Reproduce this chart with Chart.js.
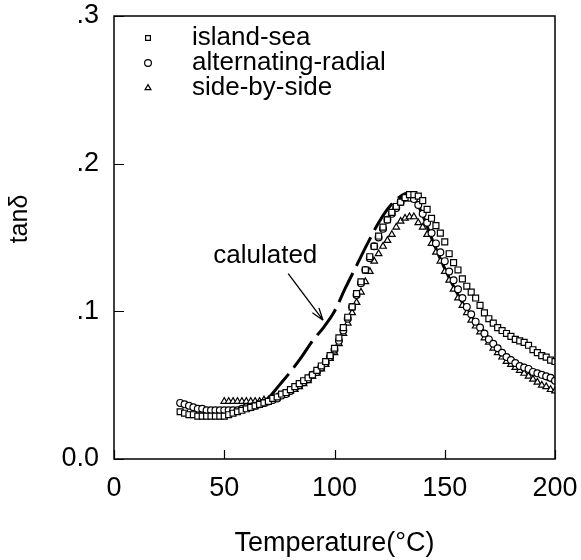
<!DOCTYPE html>
<html>
<head>
<meta charset="utf-8">
<script src="https://cdn.jsdelivr.net/npm/chart.js@4/dist/chart.umd.min.js"></script>
<style>
html,body{margin:0;padding:0;background:#fff;}
canvas{display:block;}
</style>
</head>
<body>
<canvas id="c" width="581" height="560"></canvas>
<script>
// ---- data ----
const seriesNames = ['island-sea', 'alternating-radial', 'side-by-side'];
const calcLabel = 'calulated';
const xTitle = 'Temperature(°C)';
const yTitle = 'tanδ';
const xTickValues = [0, 50, 100, 150, 200];
const yTickValues = [0, 0.1, 0.2, 0.3];
const yTickLabels = ['0.0', '.1', '.2', '.3'];

const islandX = [30,32,34,36,38,40,42,44,46,48,50,52,54,56,58,60,62,64,66,68,70,72,74,76,78,80,82,84,86,88,90,92,94,96,98,100,102,104,106,108,110,112,114,116,118,120,122,124,126,128,130,132,134,136,138,140,142,144,146,148,150,152,154,156,158,160,162,164,166,168,170,172,174,176,178,180,182,184,186,188,190,192,194,196,198,200];
const islandY = [.032,.031,.030,.030,.029,.029,.029,.029,.029,.029,.029,.030,.031,.032,.033,.034,.035,.036,.037,.038,.039,.041,.042,.044,.045,.047,.049,.051,.053,.055,.057,.060,.063,.066,.070,.075,.082,.089,.096,.103,.112,.120,.128,.137,.144,.151,.157,.162,.167,.171,.174,.177,.179,.179,.178,.175,.169,.163,.158,.153,.147,.139,.133,.128,.122,.117,.113,.109,.104,.099,.095,.092,.089,.087,.085,.083,.081,.080,.079,.077,.074,.072,.070,.069,.067,.066];

const radialX = [30,32,34,36,38,40,42,44,46,48,50,52,54,56,58,60,62,64,66,68,70,72,74,76,78,80,82,84,86,88,90,92,94,96,98,100,102,104,106,108,110,112,114,116,118,120,122,124,126,128,130,132,134,136,138,140,142,144,146,148,150,152,154,156,158,160,162,164,166,168,170,172,174,176,178,180,182,184,186,188,190,192,194,196,198,200];
const radialY = [.038,.037,.036,.035,.034,.034,.033,.033,.033,.033,.033,.033,.033,.033,.034,.035,.035,.036,.037,.038,.039,.040,.041,.043,.044,.046,.048,.050,.052,.054,.057,.059,.062,.065,.069,.074,.080,.087,.095,.103,.111,.119,.128,.136,.144,.150,.156,.162,.166,.170,.174,.177,.177,.176,.172,.166,.160,.153,.146,.140,.134,.127,.121,.115,.109,.103,.098,.093,.089,.085,.081,.078,.075,.072,.069,.067,.065,.063,.062,.061,.059,.058,.057,.056,.055,.053];

const sideX = [50,52,54,56,58,60,62,64,66,68,70,72,74,76,78,80,82,84,86,88,90,92,94,96,98,100,102,104,106,108,110,112,114,116,118,120,122,124,126,128,130,132,134,136,138,140,142,144,146,148,150,152,154,156,158,160,162,164,166,168,170,172,174,176,178,180,182,184,186,188,190,192,194,196,198,200];
const sideY = [.039,.039,.039,.039,.039,.039,.039,.039,.039,.040,.040,.041,.042,.043,.044,.046,.047,.049,.051,.053,.056,.058,.061,.064,.068,.072,.078,.085,.092,.099,.106,.113,.120,.127,.134,.139,.144,.148,.152,.157,.161,.163,.164,.164,.160,.157,.152,.146,.140,.134,.127,.121,.115,.109,.104,.099,.094,.090,.086,.082,.079,.075,.072,.069,.066,.064,.062,.060,.058,.056,.054,.052,.050,.049,.047,.046];

const calcX = [70,75,80,85,90,95,100,105,110,115,120,125,130,133,136,140,145,150,155,160,165,170,175,180,185,190,195,200];
const calcY = [.041,.050,.059,.069,.080,.089,.100,.116,.131,.146,.160,.171,.178,.180,.177,.165,.146,.129,.114,.101,.091,.082,.074,.068,.063,.059,.055,.052];
const calcDashEndX = 133;

// ---- build ----
const toPts = (xs, ys) => xs.map((x, i) => ({x: x, y: ys[i]}));
const FONT = '"Liberation Sans", Arial, Helvetica, sans-serif';

const markerStyles = ['rect', 'circle', 'triangle'];
const markerRadius = [4.2, 3.4, 3.8];

function drawMarker(ctx, style, x, y, r) {
  ctx.beginPath();
  if (style === 'rect') {
    const s = r * Math.SQRT1_2;
    ctx.rect(x - s, y - s, 2 * s, 2 * s);
  } else if (style === 'circle') {
    ctx.arc(x, y, r, 0, Math.PI * 2);
  } else {
    const w = r * Math.sqrt(3) / 2;
    ctx.moveTo(x, y - r);
    ctx.lineTo(x + w, y + r / 2);
    ctx.lineTo(x - w, y + r / 2);
    ctx.closePath();
  }
  ctx.fill();
  ctx.stroke();
}

const framePlugin = {
  id: 'frameAndNotes',
  afterDraw(chart) {
    const ctx = chart.ctx;
    const a = chart.chartArea;
    const xs = chart.scales.x, ys = chart.scales.y;
    ctx.save();
    ctx.strokeStyle = '#000';
    ctx.lineWidth = 1.5;
    ctx.strokeRect(a.left, a.top, a.right - a.left, a.bottom - a.top);
    // inward ticks
    ctx.lineWidth = 1.2;
    ctx.beginPath();
    xTickValues.forEach(v => {
      const px = Math.round(xs.getPixelForValue(v)) + 0.5;
      ctx.moveTo(px, a.bottom);
      ctx.lineTo(px, a.bottom - 9);
    });
    yTickValues.forEach(v => {
      const py = Math.round(ys.getPixelForValue(v)) + 0.5;
      ctx.moveTo(a.left, py);
      ctx.lineTo(a.left + 10, py);
    });
    ctx.stroke();
    // y axis title
    ctx.save();
    ctx.translate(20, a.top + 203);
    ctx.rotate(-Math.PI / 2);
    ctx.font = '25px ' + FONT;
    ctx.textAlign = 'center';
    ctx.textBaseline = 'middle';
    ctx.fillStyle = '#000';
    ctx.fillText(yTitle, 0, 0);
    ctx.restore();
    // legend
    ctx.font = '26px ' + FONT;
    ctx.textBaseline = 'middle';
    ctx.textAlign = 'left';
    ctx.fillStyle = '#000';
    seriesNames.forEach((name, i) => {
      const y = a.top + 22 + i * 25;
      ctx.fillStyle = '#fff';
      ctx.strokeStyle = '#000';
      ctx.lineWidth = 1.2;
      drawMarker(ctx, markerStyles[i], a.left + 34, y, 3.4);
      ctx.fillStyle = '#000';
      ctx.fillText(name, a.left + 78, y);
    });
    // annotation
    ctx.fillText(calcLabel, xs.getPixelForValue(45), ys.getPixelForValue(0.1375));
    const x0 = xs.getPixelForValue(79), y0 = ys.getPixelForValue(0.1255);
    const x1 = xs.getPixelForValue(94.8), y1 = ys.getPixelForValue(0.094);
    ctx.lineWidth = 1.3;
    ctx.beginPath();
    ctx.moveTo(x0, y0);
    ctx.lineTo(x1, y1);
    const ang = Math.atan2(y1 - y0, x1 - x0);
    const L = 13, spread = 0.32;
    ctx.moveTo(x1, y1);
    ctx.lineTo(x1 - L * Math.cos(ang - spread), y1 - L * Math.sin(ang - spread));
    ctx.moveTo(x1, y1);
    ctx.lineTo(x1 - L * Math.cos(ang + spread), y1 - L * Math.sin(ang + spread));
    ctx.stroke();
    ctx.restore();
  }
};

const markerDataset = (i, xs, ys) => ({
  label: seriesNames[i],
  data: toPts(xs, ys),
  showLine: false,
  pointStyle: markerStyles[i],
  pointRadius: markerRadius[i],
  pointBorderWidth: 1.2,
  pointBorderColor: '#000',
  pointBackgroundColor: '#fff',
  borderColor: '#000',
  backgroundColor: '#fff'
});

new Chart(document.getElementById('c'), {
  type: 'scatter',
  data: {
    datasets: [
      markerDataset(0, islandX, islandY),
      markerDataset(1, radialX, radialY),
      markerDataset(2, sideX, sideY),
      {
        label: calcLabel,
        data: toPts(calcX, calcY),
        showLine: true,
        pointRadius: 0,
        borderColor: '#000',
        borderWidth: 3,
        cubicInterpolationMode: 'monotone',
        segment: {
          borderDash: c => (c.p1.parsed.x <= calcDashEndX ? [32, 8] : [])
        }
      }
    ]
  },
  options: {
    responsive: false,
    animation: false,
    devicePixelRatio: 1,
    layout: {padding: {left: 4, right: 26, top: 16, bottom: 0}},
    plugins: {legend: {display: false}, tooltip: {enabled: false}},
    scales: {
      x: {
        type: 'linear', min: 0, max: 200,
        afterFit: s => { s.height = 101; s.paddingLeft = 0; s.paddingRight = 0; },
        afterBuildTicks: s => { s.ticks = xTickValues.map(v => ({value: v})); },
        grid: {display: false, drawTicks: false},
        border: {display: false},
        ticks: {color: '#000', font: {family: FONT, size: 27}, padding: 13, maxRotation: 0},
        title: {display: true, text: xTitle, color: '#000', font: {family: FONT, size: 27}, padding: 0}
      },
      y: {
        type: 'linear', min: 0, max: 0.3,
        afterFit: s => { s.width = 110; s.paddingTop = 0; s.paddingBottom = 0; },
        afterBuildTicks: s => { s.ticks = yTickValues.map(v => ({value: v})); },
        grid: {display: false, drawTicks: false},
        border: {display: false},
        ticks: {color: '#000', font: {family: FONT, size: 27}, padding: 15,
          callback: v => { const i = yTickValues.findIndex(t => Math.abs(t - v) < 1e-9); return i >= 0 ? yTickLabels[i] : ''; }},
        title: {display: false}
      }
    }
  },
  plugins: [framePlugin]
});
</script>
</body>
</html>
